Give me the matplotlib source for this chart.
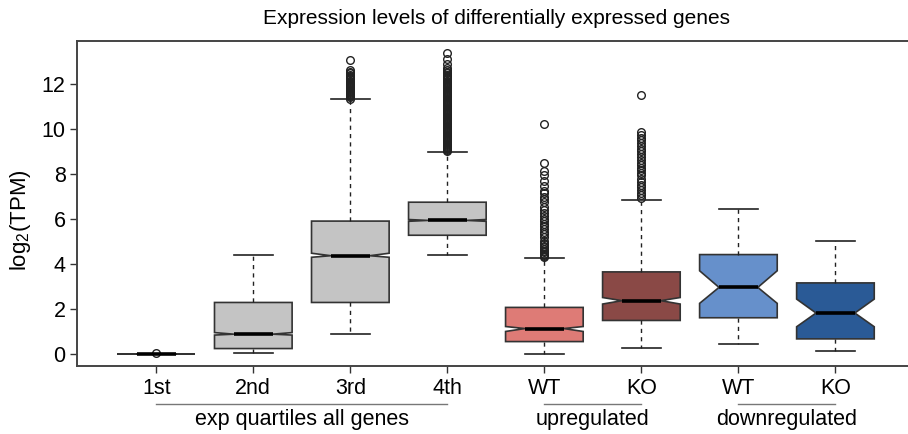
import matplotlib
matplotlib.use("Agg")
import matplotlib.pyplot as plt
import matplotlib.transforms as mtransforms

plt.rcParams['font.family'] = ['Liberation Sans', 'DejaVu Sans']
plt.rcParams['mathtext.default'] = 'regular'

# box statistics
labels = ['1st', '2nd', '3rd', '4th', 'WT', 'KO', 'WT', 'KO']
med = [0.0, 0.89, 4.38, 5.95, 1.14, 2.38, 2.97, 1.83]
q1 = [0.0, 0.25, 2.30, 5.29, 0.56, 1.50, 1.62, 0.68]
q3 = [0.0, 2.30, 5.92, 6.76, 2.08, 3.66, 4.43, 3.17]
whislo = [0.0, 0.04, 0.89, 4.41, 0.0, 0.27, 0.45, 0.12]
whishi = [0.0, 4.41, 11.34, 8.99, 4.27, 6.88, 6.47, 5.02]
cilo = [0.0, 0.85, 4.31, 5.91, 1.01, 2.23, 2.26, 1.22]
cihi = [0.0, 0.96, 4.49, 5.99, 1.23, 2.52, 3.71, 2.45]

fliers_1st = [0.07]
fliers_2nd = []
fliers_3rd = [11.37, 11.42, 11.47, 11.52, 11.57, 11.62, 11.67, 11.72, 11.77, 11.82,
              11.87, 11.92, 11.97, 12.02, 12.07, 12.12, 12.17, 12.22, 12.27, 12.32,
              12.38, 12.44, 12.50, 12.57, 12.64, 13.08]
fliers_4th = [9.02, 9.07, 9.12, 9.17, 9.22, 9.27, 9.32, 9.37, 9.42, 9.47, 9.52, 9.57,
              9.62, 9.67, 9.72, 9.77, 9.82, 9.87, 9.92, 9.97, 10.02, 10.07, 10.12,
              10.17, 10.22, 10.27, 10.32, 10.37, 10.42, 10.47, 10.52, 10.57, 10.62,
              10.67, 10.72, 10.77, 10.82, 10.87, 10.92, 10.97, 11.02, 11.07, 11.12,
              11.17, 11.22, 11.27, 11.32, 11.37, 11.42, 11.47, 11.52, 11.57, 11.62,
              11.67, 11.72, 11.77, 11.82, 11.87, 11.92, 11.97, 12.02, 12.07, 12.12,
              12.17, 12.22, 12.27, 12.32, 12.38, 12.44, 12.50, 12.57, 12.64, 12.71,
              12.93, 13.11, 13.38]
fliers_up_wt = [4.31, 4.36, 4.42, 4.47, 4.53, 4.60, 4.68, 4.75, 4.82, 4.90, 4.96, 5.05,
                5.20, 5.35, 5.45, 5.58, 5.70, 5.80, 5.92, 6.02, 6.15, 6.27, 6.40, 6.55,
                6.76, 6.90, 6.99, 7.15, 7.28, 7.50, 7.70, 7.95, 8.14, 8.50, 10.26]
fliers_up_ko = [6.95, 7.06, 7.18, 7.31, 7.42, 7.51, 7.65, 7.81, 7.95, 8.05, 8.18, 8.30,
                8.40, 8.52, 8.62, 8.75, 8.92, 9.03, 9.14, 9.27, 9.39, 9.52, 9.63, 9.75,
                9.89, 11.51]
fliers_down_wt = []
fliers_down_ko = []
fliers = [fliers_1st, fliers_2nd, fliers_3rd, fliers_4th,
          fliers_up_wt, fliers_up_ko, fliers_down_wt, fliers_down_ko]

colors = ['#C4C4C4', '#C4C4C4', '#C4C4C4', '#C4C4C4',
          '#DE7B76', '#8A4946', '#6690CB', '#2A5A96']

group_names = ['exp quartiles all genes', 'upregulated', 'downregulated']
group_start = [1, 5, 7]
group_end = [4, 6, 8]

stats = []
for i in range(len(labels)):
    stats.append(dict(med=med[i], q1=q1[i], q3=q3[i], whislo=whislo[i],
                      whishi=whishi[i], cilo=cilo[i], cihi=cihi[i],
                      fliers=fliers[i], label=labels[i]))

fig = plt.figure(figsize=(9.08, 4.34), dpi=100)
ax = fig.add_axes([0.0845, 0.157, 1.0077 - 0.0845, 0.906 - 0.157])

positions = list(range(1, len(labels) + 1))
bp = ax.bxp(stats, positions=positions, widths=0.8, shownotches=True,
            patch_artist=True,
            boxprops=dict(edgecolor='#333333', linewidth=1.2),
            medianprops=dict(color='black', linewidth=2.6, solid_capstyle='butt'),
            whiskerprops=dict(color='#222222', linewidth=1.0, linestyle=(0, (3, 3))),
            capprops=dict(color='#222222', linewidth=1.2),
            flierprops=dict(marker='o', markerfacecolor='none',
                            markeredgecolor='#222222', markersize=5.5,
                            markeredgewidth=1.0))
for patch, c in zip(bp['boxes'], colors):
    patch.set_facecolor(c)

ax.set_xlim(0.18, 8.82)
ax.set_ylim(-0.52, 13.94)
ax.set_yticks([0, 2, 4, 6, 8, 10, 12])
ax.set_xticks(positions)
ax.set_xticklabels(labels)
ax.tick_params(axis='both', direction='out', length=5, width=1.0,
               color='#333333', labelsize=15.5)
ax.tick_params(axis='x', pad=4)
ax.tick_params(axis='y', pad=3)

for s in ['left', 'top', 'bottom']:
    ax.spines[s].set_color('#444444')
    ax.spines[s].set_linewidth(1.4)
ax.spines['right'].set_visible(False)

ax.set_ylabel(r'log$_2$(TPM)', fontsize=16)
ax.yaxis.set_label_coords(-0.052, 0.447)

fig.text(0.547, 0.958, 'Expression levels of differentially expressed genes',
         ha='center', va='center', fontsize=15)

trans = mtransforms.blended_transform_factory(ax.transData, ax.transAxes)
for name, a, b in zip(group_names, group_start, group_end):
    ax.plot([a, b], [-0.118, -0.118], color='#777777', linewidth=1.0,
            transform=trans, clip_on=False)
    ax.text((a + b) / 2, -0.165, name, transform=trans, ha='center',
            va='center', fontsize=15.5)

fig.savefig('out.png', dpi=100)
